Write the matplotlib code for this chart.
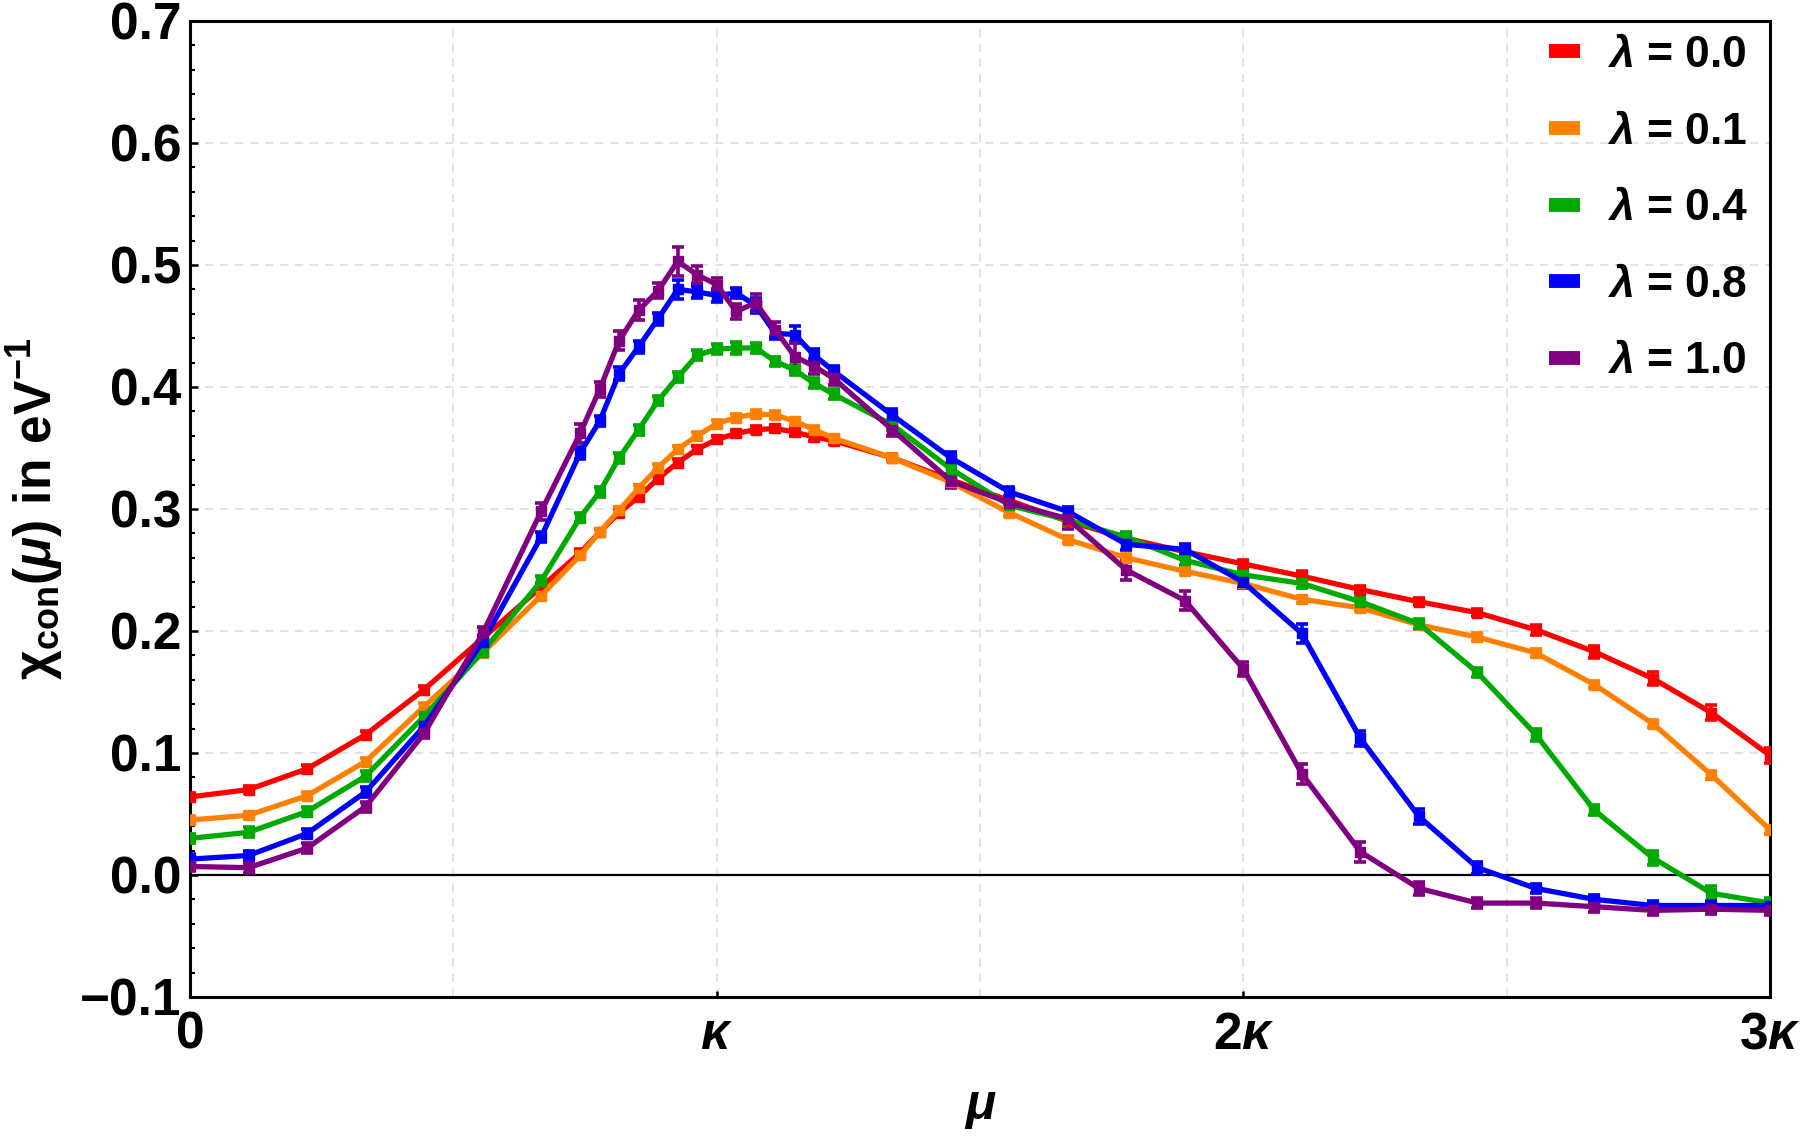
import matplotlib
matplotlib.use("Agg")
import matplotlib.pyplot as plt
from matplotlib.lines import Line2D
from matplotlib.ticker import MultipleLocator, FuncFormatter

plt.rcParams['font.family'] = ['Liberation Sans', 'DejaVu Sans']
plt.rcParams['font.weight'] = 'bold'
plt.rcParams['mathtext.fontset'] = 'custom'
plt.rcParams['mathtext.rm'] = 'Liberation Sans:bold'
plt.rcParams['mathtext.it'] = 'Liberation Sans:italic:bold'
plt.rcParams['mathtext.bf'] = 'Liberation Sans:bold'

# chemical potential in eV, kappa = 2.7 eV
kappa = 2.7
mu = [0.0, 0.3, 0.6, 0.9, 1.2, 1.5, 1.8, 2.0, 2.1, 2.2, 2.3, 2.4, 2.5, 2.6, 2.7,
      2.8, 2.9, 3.0, 3.1, 3.2, 3.3, 3.6, 3.9, 4.2, 4.5, 4.8, 5.1, 5.4, 5.7, 6.0,
      6.3, 6.6, 6.9, 7.2, 7.5, 7.8, 8.1]

lambdas = ["0.0", "0.1", "0.4", "0.8", "1.0"]
colors = ["#ff0000", "#ff8000", "#00aa00", "#0000ff", "#800080"]

chi_l00 = [0.064, 0.070, 0.087, 0.115, 0.152, 0.194, 0.236, 0.264, 0.281, 0.297,
           0.310, 0.325, 0.338, 0.349, 0.357, 0.362, 0.365, 0.366, 0.363, 0.359,
           0.356, 0.342, 0.324, 0.307, 0.290, 0.276, 0.265, 0.255, 0.245, 0.234,
           0.224, 0.215, 0.201, 0.183, 0.161, 0.133, 0.098]
chi_l01 = [0.045, 0.049, 0.065, 0.093, 0.138, 0.182, 0.229, 0.262, 0.281, 0.299,
           0.317, 0.334, 0.349, 0.360, 0.370, 0.375, 0.378, 0.377, 0.372, 0.365,
           0.358, 0.342, 0.322, 0.297, 0.275, 0.260, 0.249, 0.239, 0.226, 0.219,
           0.205, 0.195, 0.182, 0.156, 0.124, 0.082, 0.037]
chi_l04 = [0.030, 0.035, 0.052, 0.081, 0.130, 0.183, 0.241, 0.293, 0.314, 0.342,
           0.365, 0.389, 0.408, 0.426, 0.431, 0.432, 0.432, 0.421, 0.414, 0.403,
           0.394, 0.369, 0.333, 0.303, 0.291, 0.277, 0.258, 0.246, 0.239, 0.224,
           0.206, 0.166, 0.115, 0.053, 0.014, -0.015, -0.023]
chi_l08 = [0.013, 0.016, 0.034, 0.068, 0.122, 0.191, 0.277, 0.346, 0.372, 0.411,
           0.433, 0.456, 0.480, 0.478, 0.475, 0.477, 0.467, 0.444, 0.443, 0.426,
           0.413, 0.377, 0.342, 0.314, 0.298, 0.271, 0.267, 0.240, 0.198, 0.112,
           0.048, 0.006, -0.011, -0.020, -0.025, -0.025, -0.025]
chi_l10 = [0.007, 0.006, 0.022, 0.056, 0.116, 0.198, 0.298, 0.362, 0.398, 0.438,
           0.463, 0.479, 0.503, 0.492, 0.484, 0.462, 0.469, 0.447, 0.425, 0.417,
           0.407, 0.365, 0.323, 0.305, 0.292, 0.250, 0.225, 0.169, 0.083, 0.019,
           -0.011, -0.023, -0.023, -0.026, -0.029, -0.028, -0.029]

err_l00 = [0.003, 0.003, 0.003, 0.003, 0.003, 0.003, 0.003, 0.003, 0.003, 0.003,
           0.003, 0.003, 0.003, 0.003, 0.003, 0.003, 0.003, 0.003, 0.003, 0.003,
           0.003, 0.003, 0.003, 0.003, 0.003, 0.003, 0.003, 0.003, 0.004, 0.003,
           0.003, 0.003, 0.004, 0.005, 0.005, 0.006, 0.006]
err_l01 = [0.003] * 37
err_l04 = [0.004, 0.004, 0.004, 0.004, 0.004, 0.004, 0.004, 0.004, 0.004, 0.004,
           0.004, 0.004, 0.004, 0.004, 0.004, 0.005, 0.004, 0.004, 0.004, 0.004,
           0.004, 0.004, 0.004, 0.004, 0.004, 0.004, 0.004, 0.004, 0.004, 0.004,
           0.004, 0.004, 0.005, 0.004, 0.006, 0.006, 0.004]
err_l08 = [0.004, 0.004, 0.004, 0.004, 0.004, 0.004, 0.004, 0.005, 0.004, 0.005,
           0.005, 0.005, 0.008, 0.005, 0.005, 0.004, 0.006, 0.005, 0.007, 0.005,
           0.004, 0.005, 0.005, 0.004, 0.004, 0.005, 0.004, 0.005, 0.008, 0.006,
           0.006, 0.005, 0.004, 0.004, 0.004, 0.004, 0.004]
err_l10 = [0.004, 0.004, 0.004, 0.004, 0.004, 0.005, 0.007, 0.008, 0.006, 0.008,
           0.008, 0.006, 0.012, 0.007, 0.005, 0.006, 0.007, 0.006, 0.012, 0.006,
           0.005, 0.005, 0.006, 0.006, 0.008, 0.008, 0.008, 0.006, 0.008, 0.008,
           0.005, 0.004, 0.004, 0.004, 0.004, 0.004, 0.004]

series = [chi_l00, chi_l01, chi_l04, chi_l08, chi_l10]
errors = [err_l00, err_l01, err_l04, err_l08, err_l10]

fig = plt.figure(figsize=(18, 11.38), dpi=100)
ax = fig.add_axes([190 / 1800, 1 - 997 / 1138, 1580 / 1800, 976 / 1138])

for vals, errs, c in zip(series, errors, colors):
    ax.errorbar(mu, vals, yerr=errs, color=c, lw=3.8, marker='s', markersize=7.5,
                elinewidth=2.6, capsize=4.5, capthick=2.6, zorder=3)

ax.axhline(0, color='black', lw=1.6, zorder=2)

ax.set_xlim(0, 3 * kappa)
ax.set_ylim(-0.1, 0.7)

ax.set_xticks([0, kappa, 2 * kappa, 3 * kappa])
ax.set_xticklabels(['0', r'$\mathit{\kappa}$', r'$\mathrm{2}\mathit{\kappa}$',
                    r'$\mathrm{3}\mathit{\kappa}$'])
ax.xaxis.set_minor_locator(MultipleLocator(kappa / 2))
ax.yaxis.set_major_locator(MultipleLocator(0.1))
ax.yaxis.set_minor_locator(MultipleLocator(0.02))
ax.yaxis.set_major_formatter(FuncFormatter(lambda v, p: f"{v:.1f}".replace('-', '\u2212')))

ax.tick_params(axis='both', which='both', direction='in', labelsize=37,
               top=False, right=False)
ax.tick_params(axis='y', which='major', length=6, width=1.8, pad=6)
ax.tick_params(axis='y', which='minor', length=3.5, width=1.5)
ax.tick_params(axis='x', which='major', length=4, width=1.8, pad=10)
ax.tick_params(axis='x', which='minor', length=0)

ax.grid(True, which='major', axis='y', color='#dddddd', ls=(0, (5, 4)), lw=1.2)
ax.grid(True, which='both', axis='x', color='#dddddd', ls=(0, (5, 4)), lw=1.2)

for sp in ax.spines.values():
    sp.set_linewidth(2.2)

ax.set_xlabel(r'$\mathit{\mu}$', fontsize=36, labelpad=18)
ax.set_ylabel(r'$\mathrm{\chi}_{\mathrm{con}}(\mathit{\mu})\ \mathrm{in\ eV}^{-1}$',
              fontsize=37, labelpad=10)

handles = [Line2D([], [], color=c, lw=10, solid_capstyle='butt') for c in colors]
labels = [r'$\mathit{\lambda}$ = ' + l for l in lambdas]
ax.legend(handles, labels, loc='upper right', frameon=False, fontsize=32,
          handlelength=0.7, handletextpad=0.6, labelspacing=0.8,
          borderaxespad=0, borderpad=0,
          bbox_to_anchor=(1748 / 1800, 1 - 35 / 1138),
          bbox_transform=fig.transFigure)

fig.savefig('out.png', dpi=100)
